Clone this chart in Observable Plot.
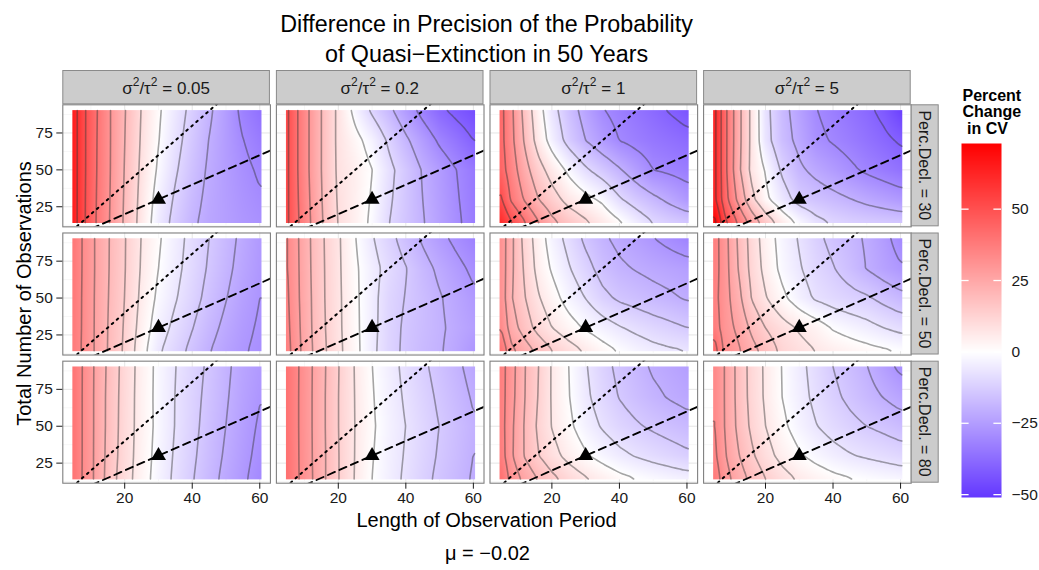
<!DOCTYPE html>
<html>
<head>
<meta charset="utf-8">
<script src="https://cdn.jsdelivr.net/npm/d3@7"></script>
<script src="https://cdn.jsdelivr.net/npm/@observablehq/plot@0.6"></script>
<style>
  body { margin: 0; background: #fff; }
  #wrap { position: relative; width: 1039px; height: 570px; overflow: hidden;
          font-family: "Liberation Sans", Arial, Helvetica, sans-serif; }
  #wrap > * { position: absolute; }
</style>
</head>
<body>
<div id="wrap"></div>
<script>
// ---------------- data ----------------
const xGrid = [5, 8, 12, 16, 20, 25, 30, 35, 40, 45, 50, 55, 60];   // Length of Observation Period
const yGrid = [15, 30, 50, 70, 90];                                  // Total Number of Observations
const ratioLabels = ["0.05", "0.2", "1", "5"];                        // sigma^2 / tau^2
const declineLabels = ["30", "50", "80"];                             // Perc.Decl.
const contourSteps = [10, 6.75, 6.75];                                // contour spacing per Perc.Decl. row
const xTicks = [20, 40, 60];
const xMinor = [10, 30, 50];
const yTicks = [25, 50, 75];
const yMinor = [12.5, 37.5, 62.5, 87.5];
const legendTicks = [-50, -25, 0, 25, 50];
const legendRange = [-51, 73];
const triangleX = [30];
const triangleY = [30];
const dashedX = [0, 100];
const dashedY = [0, 100];
const dottedX = [0, 50];
const dottedY = [0, 100];

// percent change in CV; one row per yGrid value (15 -> 90), one column per xGrid value
const cv_005_30 = [
  [64, 51, 38.5, 28.8, 18.7, 6.6, -5, -12.7, -18.7, -22.5, -24.5, -26.5, -28],
  [64, 51.1, 38.8, 29.1, 19.1, 7.3, -3.5, -11.2, -17.4, -22, -24.7, -27.2, -29.2],
  [64, 51.3, 39.2, 29.4, 19.6, 8.2, -1.2, -9, -15.6, -21.2, -24.9, -28.2, -31],
  [64, 51.3, 39.4, 29.5, 20.1, 9, 0.3, -7.2, -14, -20.2, -25, -29.8, -33.3],
  [64, 51.3, 39.7, 29.5, 20.5, 9.6, 1.1, -5.8, -12.4, -18.7, -24.9, -32, -36]
];
const cv_02_30 = [
  [51, 41, 29.4, 18.4, 9.7, 4.4, -1.5, -9.8, -14.8, -19.5, -24.1, -28.7, -33],
  [51, 40.5, 28.7, 17.8, 9.1, 4.5, -0.7, -8.8, -14.5, -20, -24.7, -29.3, -33.5],
  [51, 40, 28, 17.3, 8.5, 4.7, 0.1, -7.8, -14.2, -20.6, -25.3, -30, -34],
  [51, 40, 28, 17.3, 8.2, 2.5, -3.3, -11.4, -18.6, -25, -31.3, -35.5, -40],
  [51, 40, 28, 17.3, 8.2, -2.4, -11.2, -18, -25.4, -32.4, -38.3, -42, -45]
];
const cv_1_30 = [
  [60, 50.3, 40.2, 30.2, 22, 16, 11, 6, 0.7, -5, -10.4, -13, -15],
  [51, 38.7, 29, 20.2, 14, 6.8, 2.4, -1.6, -9, -14, -18, -22, -26],
  [44, 35, 23.5, 13.7, 6.1, -1.9, -8.7, -14, -19.2, -24.7, -30, -31.5, -33],
  [42.7, 32.6, 18.8, 6, -3.6, -13, -20, -25.3, -30.1, -32.5, -34.5, -36, -37.5],
  [42.5, 32, 16.7, 3.7, -6.6, -15.8, -23.2, -29.5, -32.5, -35.2, -37.8, -40.5, -43]
];
const cv_5_30 = [
  [72, 52.3, 38.3, 25.7, 15.1, 5.2, -2.3, -8, -11, -12.5, -13.5, -14.3, -15],
  [62, 44, 27.5, 12.5, 2, -6, -13.2, -15.5, -17.6, -19.7, -22, -24, -26],
  [62, 42.8, 22.3, 7.1, -0.6, -11.5, -18.6, -22.2, -25.3, -28.4, -31.4, -33.7, -36],
  [62, 42.8, 23, 7.4, -6.6, -16.5, -22.2, -28.1, -30.7, -33, -35.6, -38.2, -41],
  [62, 42.8, 23, 7.4, -7.2, -17.3, -23.7, -29.7, -32.7, -35.5, -38.2, -42, -48]
];
const cv_005_50 = [
  [37.1, 32.3, 25.1, 18.4, 12.4, 2.8, -5.7, -10.5, -15.3, -19.8, -23.4, -26.3, -28.4],
  [37.5, 32.4, 25.1, 18.6, 12.8, 4.1, -3.5, -8.5, -13.2, -18, -21.9, -25.4, -27.8],
  [37.8, 32.4, 25.2, 19, 13.4, 5.3, -1.4, -6.2, -10.9, -15.7, -20, -24, -27],
  [38.2, 32.5, 25.4, 19.3, 13.8, 6.1, 0, -4.9, -9.6, -14.3, -18.6, -22.7, -26.2],
  [38.5, 32.5, 25.4, 19.4, 13.9, 6.5, 0.8, -4.2, -8.9, -13.5, -17.7, -21.9, -25.7]
];
const cv_02_50 = [
  [35.8, 28.8, 20.9, 14.2, 8.4, 2, -5.1, -10.9, -14.9, -17.6, -19.6, -22.7, -26.3],
  [35.1, 28.4, 20.5, 13.8, 8.1, 1.6, -4.7, -10.8, -14.6, -17, -19.3, -21.9, -24.3],
  [34.4, 27.9, 20.3, 13.5, 8, 1.4, -4.6, -10.5, -13.8, -16.7, -19.7, -22.7, -25.7],
  [33.8, 27.7, 20, 13.4, 7.8, 1.1, -4.3, -9.2, -13.2, -17.8, -21.6, -25.1, -28.4],
  [33.8, 27.5, 19.8, 13.2, 7.7, 0.3, -6.1, -11.3, -16.3, -21.1, -25.1, -28.6, -31.7]
];
const cv_1_50 = [
  [39.2, 28.5, 23.4, 18.1, 13.5, 9.5, 5.7, 2.2, -0.7, -3.1, -4.9, -6.1, -7],
  [33.1, 23.6, 16.9, 11.1, 6.8, 2.7, -0.8, -3.6, -6.3, -8.4, -10.3, -11.9, -13.5],
  [31.1, 20.9, 13.8, 7.4, 2.7, -2.7, -6.9, -11.7, -14.6, -16.2, -17.8, -19.2, -20.9],
  [31.1, 21.6, 12.4, 4.5, -0.7, -6.2, -11.1, -16.1, -19, -20.7, -22.1, -23.2, -24.3],
  [31.1, 21.9, 11.1, 3.5, -3, -8.8, -14.9, -19, -22, -24.3, -26.7, -29, -31.1]
];
const cv_5_50 = [
  [43.2, 31.6, 27.8, 22.5, 17.6, 11.7, 9, 6.5, 4.6, 3.1, 1.8, 0.5, -0.7],
  [37.1, 30.1, 25.4, 18.6, 13.4, 9.3, 5.9, 3.2, -0.7, -2.7, -4.6, -6.8, -8.8],
  [35.8, 29.8, 22.3, 13.1, 7.3, 1.5, -3.6, -7.7, -9.7, -11.3, -12.6, -15.5, -18.2],
  [36.5, 29.7, 20, 11.3, 4.7, -1.9, -6.1, -10.1, -13.1, -16.5, -20.5, -23.6, -26.3],
  [36.5, 29.4, 19.2, 10.7, 3.6, -2.6, -7.3, -11.9, -15.3, -18.1, -21.1, -25, -29.7]
];
const cv_005_80 = [
  [39.2, 32.3, 24.6, 15.9, 9.9, 3.1, -2.8, -8.1, -13, -17.7, -22.1, -25.9, -29.7],
  [39.2, 32.4, 24.6, 16.5, 10.3, 3.5, -2.3, -7.6, -12.3, -16.9, -21.2, -25.1, -28.8],
  [39.2, 32.4, 24.7, 16.9, 10.5, 3.9, -1.8, -7, -11.6, -16.1, -20.3, -24.3, -27.8],
  [39.2, 32.4, 24.7, 17, 10.7, 3.9, -1.9, -6.9, -11.2, -15.4, -19.6, -23.6, -26.7],
  [39.2, 32.5, 24.8, 17.4, 10.9, 4.1, -1.8, -6.6, -10.7, -14.7, -19, -23, -25.7]
];
const cv_02_80 = [
  [40.5, 34.4, 27.7, 20.7, 13.8, 6.3, 0, -4.1, -7.8, -11.6, -14.9, -17.8, -20.9],
  [40.2, 34.3, 27.5, 20.7, 13.8, 6.5, 0.4, -3.8, -7.3, -10.9, -14.2, -17.1, -20.3],
  [40.1, 34.2, 27.4, 20.5, 13.6, 6.6, 0.9, -3.4, -6.8, -10.3, -13.6, -16.6, -19.6],
  [40.1, 34.2, 27.4, 20.5, 13.6, 6.5, 0.5, -3.8, -7.6, -11.2, -14.6, -17.8, -20.9],
  [40.1, 34.3, 27.5, 20.7, 13.8, 6.3, 0.1, -4.2, -8.4, -12.3, -15.7, -19, -22.3]
];
const cv_1_80 = [
  [40.5, 31.1, 25, 19.6, 15.1, 10.7, 7.2, 4.3, 1.6, -0.3, -1.8, -3, -4.1],
  [37.1, 28.1, 19.7, 13.8, 9.2, 4.6, 0.8, -2.4, -5.1, -7.2, -8.9, -10.5, -12.2],
  [36.5, 28.4, 19.6, 12.3, 6.5, 1.4, -3.5, -7.4, -10.5, -12.7, -14.6, -16.2, -17.6],
  [36.5, 29.3, 20.3, 13.2, 6.2, 0.3, -5.4, -10, -13.8, -16.5, -18.9, -20.8, -22.3],
  [36.5, 29.7, 20.5, 13.6, 6.2, 0, -6.2, -11.2, -15.1, -18.1, -21.1, -22.7, -24.3]
];
const cv_5_80 = [
  [37.8, 29.7, 23.6, 18.2, 13.5, 9.2, 5.7, 3.4, 1.5, 0.1, -0.9, -1.8, -2.7],
  [35.1, 27.7, 20.7, 14.6, 9.5, 4.5, 0.8, -2, -4.3, -6.2, -7.6, -8.8, -10.1],
  [33.8, 26.7, 18.6, 12, 6.8, 1.4, -3, -6.5, -9.3, -11.6, -13.5, -15.1, -16.9],
  [33.5, 26.6, 18.1, 11.1, 5.8, -0.1, -4.3, -8.4, -12, -15, -17.8, -20.5, -23],
  [33.5, 26.6, 18, 10.9, 5.7, -0.3, -4.9, -9.2, -13.5, -16.7, -20, -24.3, -28.4]
];

const panels = [
  {ratio: "0.05", decline: "30", values: cv_005_30},
  {ratio: "0.2",  decline: "30", values: cv_02_30},
  {ratio: "1",    decline: "30", values: cv_1_30},
  {ratio: "5",    decline: "30", values: cv_5_30},
  {ratio: "0.05", decline: "50", values: cv_005_50},
  {ratio: "0.2",  decline: "50", values: cv_02_50},
  {ratio: "1",    decline: "50", values: cv_1_50},
  {ratio: "5",    decline: "50", values: cv_5_50},
  {ratio: "0.05", decline: "80", values: cv_005_80},
  {ratio: "0.2",  decline: "80", values: cv_02_80},
  {ratio: "1",    decline: "80", values: cv_1_80},
  {ratio: "5",    decline: "80", values: cv_5_80}
];

// ---------------- tidy tables built from the arrays ----------------
const cells = [];
for (const p of panels) {
  p.values.forEach((row, j) => row.forEach((v, i) => {
    cells.push({ratio: p.ratio, decline: p.decline, x: xGrid[i], y: yGrid[j], v});
  }));
}
const dashedRows = dashedX.map((x, i) => ({x, y: dashedY[i]}));
const dottedRows = dottedX.map((x, i) => ({x, y: dottedY[i]}));
const triangleRows = triangleX.map((x, i) => ({x, y: triangleY[i]}));

// ---------------- layout / style constants ----------------
const W = 1039, H = 570;
const tileX = [4.5, 60.5], tileY = [14, 90.5];   // extent of the coloured tiles
const font = '"Liberation Sans", Arial, Helvetica, sans-serif';
const minus = d => d < 0 ? "\u2212" + Math.abs(d) : String(d);
const colorScale = {
  type: "linear",
  domain: [legendRange[0], 0, legendRange[1]],
  range: ["#6437ff", "#ffffff", "#ff0000"],
  interpolate: "rgb"
};

// Bilinear interpolation over the rectangular sample grid, in the raster's pixel space
// (same signature as Plot's raster interpolators).
function gridInterpolate(index, width, height, X, Y, V) {
  const idx = Array.from(index);
  const xs = Array.from(new Set(idx.map(i => X[i]))).sort((a, b) => a - b);
  const ys = Array.from(new Set(idx.map(i => Y[i]))).sort((a, b) => a - b);
  const val = new Map();
  for (const i of idx) val.set(X[i] + "|" + Y[i], V[i]);
  const g = (a, b) => val.get(xs[a] + "|" + ys[b]);
  const out = new Float64Array(width * height);
  const clamp = (t) => Math.max(0, Math.min(1, t));
  for (let r = 0; r < height; r++) {
    const yy = r + 0.5;
    let j = d3.bisectRight(ys, yy) - 1; j = Math.max(0, Math.min(ys.length - 2, j));
    const ty = clamp((yy - ys[j]) / (ys[j + 1] - ys[j]));
    for (let c = 0; c < width; c++) {
      const xx = c + 0.5;
      let i = d3.bisectRight(xs, xx) - 1; i = Math.max(0, Math.min(xs.length - 2, i));
      const tx = clamp((xx - xs[i]) / (xs[i + 1] - xs[i]));
      const a = g(i, j) * (1 - tx) + g(i + 1, j) * tx;
      const b = g(i, j + 1) * (1 - tx) + g(i + 1, j + 1) * tx;
      out[r * width + c] = a * (1 - ty) + b * ty;
    }
  }
  return out;
}

// ---------------- contour lines ----------------
const GW = 224, GH = 153;
const contourRows = [];
let lineId = 0;
const eps = 0.02;
const onEdge = p => p[0] <= eps || p[0] >= GW - eps || p[1] <= eps || p[1] >= GH - eps;
const toData = p => [tileX[0] + p[0] / GW * (tileX[1] - tileX[0]), tileY[1] - p[1] / GH * (tileY[1] - tileY[0])];
function pushLine(pts, p) {
  const d = pts.map(toData);
  const kept = [d[0]];
  for (let k = 1; k < d.length; k++) {
    const q = kept[kept.length - 1];
    const dist = Math.hypot((d[k][0] - q[0]) * 3.37, (d[k][1] - q[1]) * 1.48);
    if (dist >= 4 || k === d.length - 1) kept.push(d[k]);
  }
  if (kept.length < 2) return;
  lineId++;
  for (const [x, y] of kept) contourRows.push({ratio: p.ratio, decline: p.decline, x, y, id: lineId});
}
for (const p of panels) {
  const pts = cells.filter(c => c.ratio === p.ratio && c.decline === p.decline);
  const V = pts.map(c => c.v);
  const F = gridInterpolate(d3.range(pts.length), GW, GH,
    pts.map(c => (c.x - tileX[0]) / (tileX[1] - tileX[0]) * GW),
    pts.map(c => (tileY[1] - c.y) / (tileY[1] - tileY[0]) * GH), V);
  const [lo, hi] = d3.extent(V);
  const step = contourSteps[declineLabels.indexOf(p.decline)];
  const levels = d3.range(Math.ceil(lo / step) * step, hi, step).filter(t => t > lo && t < hi);
  const gen = d3.contours().size([GW, GH]);
  const arr = Array.from(F);
  for (const t of levels) {
    const geom = gen.contour(arr, t);
    for (const poly of geom.coordinates) for (const ring of poly) {
      const n = ring.length - 1;
      const body = ring.slice(0, n);
      const start = body.findIndex(onEdge);
      if (start < 0) { pushLine(ring, p); continue; }
      let cur = [];
      for (let k = 1; k <= n; k++) {
        const q = body[(start + k) % n];
        if (onEdge(q)) { if (cur.length > 1) pushLine(cur, p); cur = []; }
        else cur.push(q);
      }
      if (cur.length > 1) pushLine(cur, p);
    }
  }
}

// ---------------- main faceted plot ----------------
const chart = Plot.plot({
  width: W, height: H,
  marginLeft: 62.3, marginRight: 128.3, marginTop: 104.3, marginBottom: 87.3,
  style: {background: "transparent", fontFamily: font, fontSize: "15px", color: "#1a1a1a", overflow: "visible"},
  x: {domain: [1.67, 63.15]},
  y: {domain: [11.4, 94.1]},
  fx: {domain: ratioLabels, paddingInner: 0.028, paddingOuter: 0, round: false, axis: null},
  fy: {domain: declineLabels, paddingInner: 0.048, paddingOuter: 0, round: false, axis: null},
  color: colorScale,
  marks: [
    Plot.ruleX(xMinor, {stroke: "#f7f7f7"}),
    Plot.ruleY(yMinor, {stroke: "#f7f7f7"}),
    Plot.ruleX(xTicks, {stroke: "#e5e5e5"}),
    Plot.ruleY(yTicks, {stroke: "#e5e5e5"}),
    Plot.raster(cells, {x: "x", y: "y", fill: "v", fx: "ratio", fy: "decline",
      interpolate: gridInterpolate, x1: tileX[0], x2: tileX[1], y1: tileY[0], y2: tileY[1], pixelSize: 1}),
    Plot.line(contourRows, {x: "x", y: "y", z: "id", fx: "ratio", fy: "decline",
      stroke: "#383838", strokeOpacity: 0.45, strokeWidth: 1.6, curve: "catmull-rom"}),
    Plot.line(dottedRows, {x: "x", y: "y", clip: true, stroke: "black", strokeWidth: 2,
      strokeDasharray: "1.8,4.8"}),
    Plot.line(dashedRows, {x: "x", y: "y", clip: true, stroke: "black", strokeWidth: 1.9,
      strokeDasharray: "7.5,5"}),
    Plot.dot(triangleRows, {x: "x", y: "y", symbol: "triangle", r: 5.6, fill: "black", stroke: "none"}),
    Plot.frame({stroke: "#7f7f7f", strokeWidth: 1.1}),
    Plot.axisX({ticks: xTicks, tickSize: 6, tickPadding: 3, fontSize: 15.5, color: "#1a1a1a", label: null, tickFormat: minus}),
    Plot.axisY({ticks: yTicks, tickSize: 6, tickPadding: 4, fontSize: 15.5, color: "#1a1a1a", label: null, tickFormat: minus})
  ]
});

// ---------------- vertical colour bar legend ----------------
const legend = Plot.plot({
  width: 80, height: 354,
  marginTop: 0, marginBottom: 0, marginLeft: 0, marginRight: 40,
  style: {background: "transparent", fontFamily: font, fontSize: "15px", color: "#1a1a1a", overflow: "visible"},
  x: {domain: [0, 1], axis: null},
  y: {domain: legendRange, axis: null},
  color: colorScale,
  marks: [
    Plot.raster({fill: (x, y) => y, x1: 0, x2: 1, y1: legendRange[0], y2: legendRange[1], pixelSize: 1}),
    Plot.ruleY(legendTicks, {x1: 0, x2: 0.19, stroke: "white", strokeWidth: 1.3}),
    Plot.ruleY(legendTicks, {x1: 0.81, x2: 1, stroke: "white", strokeWidth: 1.3}),
    Plot.axisY({anchor: "right", ticks: legendTicks, tickSize: 0, tickPadding: 10, fontSize: 15.5,
      color: "#1a1a1a", label: null, tickFormat: minus})
  ]
});

const wrap = document.getElementById("wrap");
chart.style.left = "0px"; chart.style.top = "0px"; chart.style.position = "absolute";
wrap.appendChild(chart);
legend.style.left = "961px"; legend.style.top = "143px"; legend.style.position = "absolute";
wrap.appendChild(legend);

// ---------------- strips, titles (SVG overlay) ----------------
const fx = chart.scale("fx"), fy = chart.scale("fy");
const bw = fx.bandwidth, bh = fy.bandwidth;
const panelTop = fy.apply(declineLabels[0]);
const panelRight = fx.apply(ratioLabels[ratioLabels.length - 1]) + bw;
const panelLeft = fx.apply(ratioLabels[0]);
const panelBottom = fy.apply(declineLabels[declineLabels.length - 1]) + bh;
const cx = (panelLeft + panelRight) / 2, cy = (panelTop + panelBottom) / 2;

const svg = d3.create("svg").attr("width", W).attr("height", H)
  .style("left", "0px").style("top", "0px").style("position", "absolute")
  .style("font-family", font).style("overflow", "visible");

const stripH = panelTop - 70;
for (const r of ratioLabels) {
  const x0 = fx.apply(r);
  svg.append("rect").attr("x", x0 + 0.5).attr("y", 70.5).attr("width", bw - 1).attr("height", stripH - 1)
    .attr("fill", "#cccccc").attr("stroke", "#8a8a8a").attr("stroke-width", 1);
  const t = svg.append("text").attr("x", x0 + bw / 2).attr("y", 70 + stripH / 2 + 6.5)
    .attr("text-anchor", "middle").attr("font-size", 17).attr("fill", "#1a1a1a");
  t.append("tspan").text("\u03c3");
  t.append("tspan").attr("font-size", 12).attr("dy", -7.5).text("2");
  t.append("tspan").attr("dy", 7.5).text("/\u03c4");
  t.append("tspan").attr("font-size", 12).attr("dy", -7.5).text("2");
  t.append("tspan").attr("dy", 7.5).text(" = " + r);
}
for (const d of declineLabels) {
  const y0 = fy.apply(d);
  svg.append("rect").attr("x", panelRight + 0.5).attr("y", y0 + 0.5).attr("width", 27).attr("height", bh - 1)
    .attr("fill", "#cccccc").attr("stroke", "#8a8a8a").attr("stroke-width", 1);
  svg.append("text").attr("transform", `translate(${panelRight + 14},${y0 + bh / 2}) rotate(90)`)
    .attr("text-anchor", "middle").attr("dy", "0.36em").attr("font-size", 16).attr("fill", "#1a1a1a")
    .text("Perc.Decl. = " + d);
}
svg.append("text").attr("x", cx).attr("y", 32).attr("text-anchor", "middle").attr("font-size", 23.3)
  .text("Difference in Precision of the Probability");
svg.append("text").attr("x", cx).attr("y", 62).attr("text-anchor", "middle").attr("font-size", 23.3)
  .text("of Quasi\u2212Extinction in 50 Years");
svg.append("text").attr("x", cx).attr("y", 527).attr("text-anchor", "middle").attr("font-size", 20)
  .text("Length of Observation Period");
svg.append("text").attr("x", cx + 1).attr("y", 560).attr("text-anchor", "middle").attr("font-size", 20)
  .text("\u03bc = \u22120.02");
svg.append("text").attr("transform", `translate(31,${cy}) rotate(-90)`).attr("text-anchor", "middle")
  .attr("font-size", 20).text("Total Number of Observations");
const lt = [["Percent", 962.5, 100.5], ["Change", 962.5, 117], ["in CV", 967, 133.5]];
for (const [s, x, y] of lt) {
  svg.append("text").attr("x", x).attr("y", y).attr("font-size", 16).attr("font-weight", "bold").text(s);
}
wrap.appendChild(svg.node());
</script>
</body>
</html>
